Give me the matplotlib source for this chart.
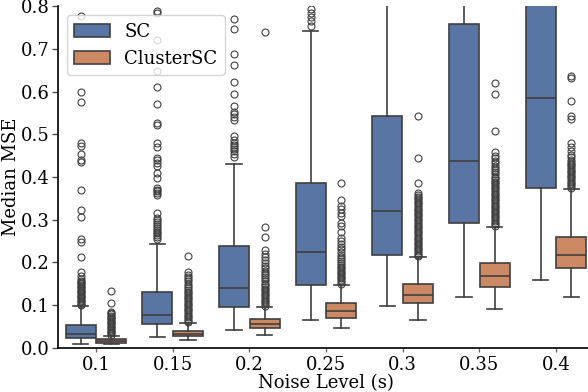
import matplotlib
matplotlib.use("Agg")
import matplotlib.pyplot as plt
from matplotlib.patches import Patch
import colorsys
import matplotlib.colors as mcolors

# ---------------- data ----------------
noise_levels = ["0.1", "0.15", "0.2", "0.25", "0.3", "0.35", "0.4"]
methods = ["SC", "ClusterSC"]

sc_q1 = [0.023, 0.054, 0.094, 0.147, 0.216, 0.292, 0.374]
sc_med = [0.032, 0.076, 0.139, 0.223, 0.320, 0.437, 0.586]
sc_q3 = [0.053, 0.130, 0.237, 0.385, 0.544, 0.759, 0.860]
sc_lo = [0.008, 0.025, 0.041, 0.065, 0.097, 0.119, 0.158]
sc_hi = [0.098, 0.243, 0.430, 0.743, 0.950, 1.100, 1.300]

csc_q1 = [0.011, 0.026, 0.046, 0.070, 0.104, 0.141, 0.186]
csc_med = [0.015, 0.032, 0.055, 0.085, 0.123, 0.167, 0.216]
csc_q3 = [0.020, 0.039, 0.066, 0.104, 0.148, 0.199, 0.260]
csc_lo = [0.0075, 0.017, 0.029, 0.046, 0.065, 0.090, 0.118]
csc_hi = [0.028, 0.057, 0.096, 0.147, 0.212, 0.282, 0.371]

sc_out_01 = [0.100, 0.103, 0.106, 0.109, 0.112, 0.115, 0.118, 0.121, 0.124, 0.127,
             0.130, 0.133, 0.136, 0.139, 0.142, 0.145, 0.148, 0.151, 0.154, 0.157,
             0.160, 0.168, 0.178, 0.212, 0.248, 0.254, 0.307, 0.322, 0.370, 0.435,
             0.439, 0.454, 0.473, 0.479, 0.576, 0.600, 0.778]
sc_out_015 = [0.255, 0.260, 0.265, 0.268, 0.272, 0.276, 0.280, 0.285, 0.290, 0.294,
              0.298, 0.303, 0.316, 0.358, 0.362, 0.366, 0.370, 0.373, 0.397, 0.409,
              0.426, 0.432, 0.439, 0.445, 0.471, 0.479, 0.522, 0.526, 0.571, 0.611,
              0.649, 0.722, 0.784, 0.790]
sc_out_02 = [0.448, 0.455, 0.460, 0.465, 0.470, 0.475, 0.480, 0.487, 0.495, 0.534,
             0.540, 0.547, 0.553, 0.567, 0.595, 0.622, 0.663, 0.689, 0.747, 0.770]
sc_out_025 = [0.755, 0.765, 0.775, 0.785, 0.795]
sc_out_03 = []
sc_out_035 = []
sc_out_04 = []

csc_out_01 = [0.030, 0.033, 0.036, 0.039, 0.042, 0.045, 0.048, 0.051, 0.054, 0.057,
              0.060, 0.063, 0.066, 0.069, 0.072, 0.075, 0.078, 0.081, 0.084, 0.104,
              0.133]
csc_out_015 = [0.059, 0.063, 0.067, 0.071, 0.075, 0.079, 0.083, 0.087, 0.091, 0.095,
               0.099, 0.103, 0.107, 0.111, 0.115, 0.119, 0.123, 0.127, 0.131, 0.135,
               0.140, 0.145, 0.150, 0.155, 0.160, 0.165, 0.170, 0.178, 0.215]
csc_out_02 = [0.098, 0.102, 0.106, 0.110, 0.114, 0.118, 0.122, 0.126, 0.130, 0.134,
              0.138, 0.142, 0.146, 0.150, 0.155, 0.160, 0.165, 0.170, 0.175, 0.180,
              0.186, 0.192, 0.198, 0.205, 0.212, 0.220, 0.229, 0.260, 0.282, 0.740]
csc_out_025 = [0.150, 0.154, 0.158, 0.162, 0.166, 0.170, 0.174, 0.178, 0.182, 0.186,
               0.190, 0.194, 0.198, 0.202, 0.207, 0.212, 0.218, 0.224, 0.230, 0.236,
               0.243, 0.249, 0.256, 0.270, 0.284, 0.293, 0.309, 0.316, 0.324, 0.332,
               0.346, 0.387]
csc_out_03 = [0.214, 0.218, 0.222, 0.226, 0.230, 0.234, 0.238, 0.242, 0.246, 0.250,
              0.254, 0.258, 0.262, 0.266, 0.270, 0.274, 0.278, 0.282, 0.286, 0.290,
              0.294, 0.298, 0.302, 0.306, 0.310, 0.314, 0.318, 0.322, 0.326, 0.330,
              0.334, 0.338, 0.342, 0.346, 0.350, 0.354, 0.358, 0.362, 0.385, 0.444,
              0.544]
csc_out_035 = [0.285, 0.289, 0.293, 0.297, 0.301, 0.305, 0.309, 0.313, 0.317, 0.321,
               0.325, 0.329, 0.333, 0.337, 0.341, 0.345, 0.349, 0.353, 0.357, 0.361,
               0.365, 0.369, 0.373, 0.377, 0.381, 0.385, 0.389, 0.393, 0.397, 0.401,
               0.406, 0.411, 0.416, 0.421, 0.426, 0.432, 0.438, 0.444, 0.450, 0.458,
               0.507, 0.594, 0.621]
csc_out_04 = [0.375, 0.379, 0.383, 0.387, 0.391, 0.395, 0.399, 0.403, 0.407, 0.411,
              0.415, 0.419, 0.423, 0.427, 0.431, 0.435, 0.440, 0.446, 0.452, 0.460,
              0.470, 0.479, 0.537, 0.542, 0.579, 0.632, 0.637]

sc_outliers = [sc_out_01, sc_out_015, sc_out_02, sc_out_025, sc_out_03, sc_out_035, sc_out_04]
csc_outliers = [csc_out_01, csc_out_015, csc_out_02, csc_out_025, csc_out_03, csc_out_035, csc_out_04]

# ---------------- style ----------------
plt.rcParams["font.family"] = "serif"
plt.rcParams["font.serif"] = ["DejaVu Serif"]
plt.rcParams["font.size"] = 13


def desaturate(color, prop):
    r, g, b = mcolors.to_rgb(color)
    h, l, s = colorsys.rgb_to_hls(r, g, b)
    return colorsys.hls_to_rgb(h, l, s * prop)


blue = desaturate("#4C72B0", 0.75)
orange = desaturate("#DD8452", 0.75)
line_col = "#3f3f3f"

fig = plt.figure(figsize=(5.88, 3.92), dpi=100)
ax = fig.add_axes([0.0981, 0.1135, 0.9126, 0.870])


def make_stats(q1, med, q3, lo, hi, outs):
    st = []
    for i in range(len(q1)):
        st.append(dict(q1=q1[i], med=med[i], q3=q3[i], whislo=lo[i], whishi=hi[i],
                       fliers=outs[i], label=""))
    return st


box_w = 0.4
positions = list(range(len(noise_levels)))
for stats, off, col in [(make_stats(sc_q1, sc_med, sc_q3, sc_lo, sc_hi, sc_outliers), -0.2, blue),
                        (make_stats(csc_q1, csc_med, csc_q3, csc_lo, csc_hi, csc_outliers), 0.2, orange)]:
    ax.bxp(stats, positions=[p + off for p in positions], widths=box_w * 0.98,
           patch_artist=True, showfliers=True, capwidths=box_w * 0.5,
           boxprops=dict(facecolor=col, edgecolor=line_col, linewidth=1.2),
           medianprops=dict(color=line_col, linewidth=1.2),
           whiskerprops=dict(color=line_col, linewidth=1.2),
           capprops=dict(color=line_col, linewidth=1.2),
           flierprops=dict(marker="o", markersize=5, markerfacecolor="none",
                           markeredgecolor=line_col, markeredgewidth=0.8))

ax.set_xlim(-0.5, len(noise_levels) - 0.5)
ax.set_ylim(0.0, 0.8)
ax.set_xticks(positions)
ax.set_xticklabels(noise_levels)
ax.set_yticks([0.0, 0.1, 0.2, 0.3, 0.4, 0.5, 0.6, 0.7, 0.8])
ax.set_yticklabels(["0.0", "0.1", "0.2", "0.3", "0.4", "0.5", "0.6", "0.7", "0.8"])
ax.tick_params(axis="y", colors="#444444", labelcolor="black", length=4, width=0.9, pad=2)
ax.tick_params(axis="x", colors="#666666", labelcolor="black", length=3, width=0.9, pad=3)
ax.spines["top"].set_visible(False)
ax.spines["right"].set_visible(False)
ax.spines["left"].set_linewidth(1.2)
ax.spines["bottom"].set_linewidth(1.2)
ax.set_xlabel("Noise Level (s)", labelpad=0)
ax.set_ylabel("Median MSE", labelpad=0)

handles = [Patch(facecolor=blue, edgecolor=line_col, linewidth=1.2, label=methods[0]),
           Patch(facecolor=orange, edgecolor=line_col, linewidth=1.2, label=methods[1])]
leg = ax.legend(handles=handles, loc="upper left", fontsize=13, frameon=True, fancybox=True)
leg.get_frame().set_edgecolor("#cccccc")

fig.savefig("out.png", dpi=100)
